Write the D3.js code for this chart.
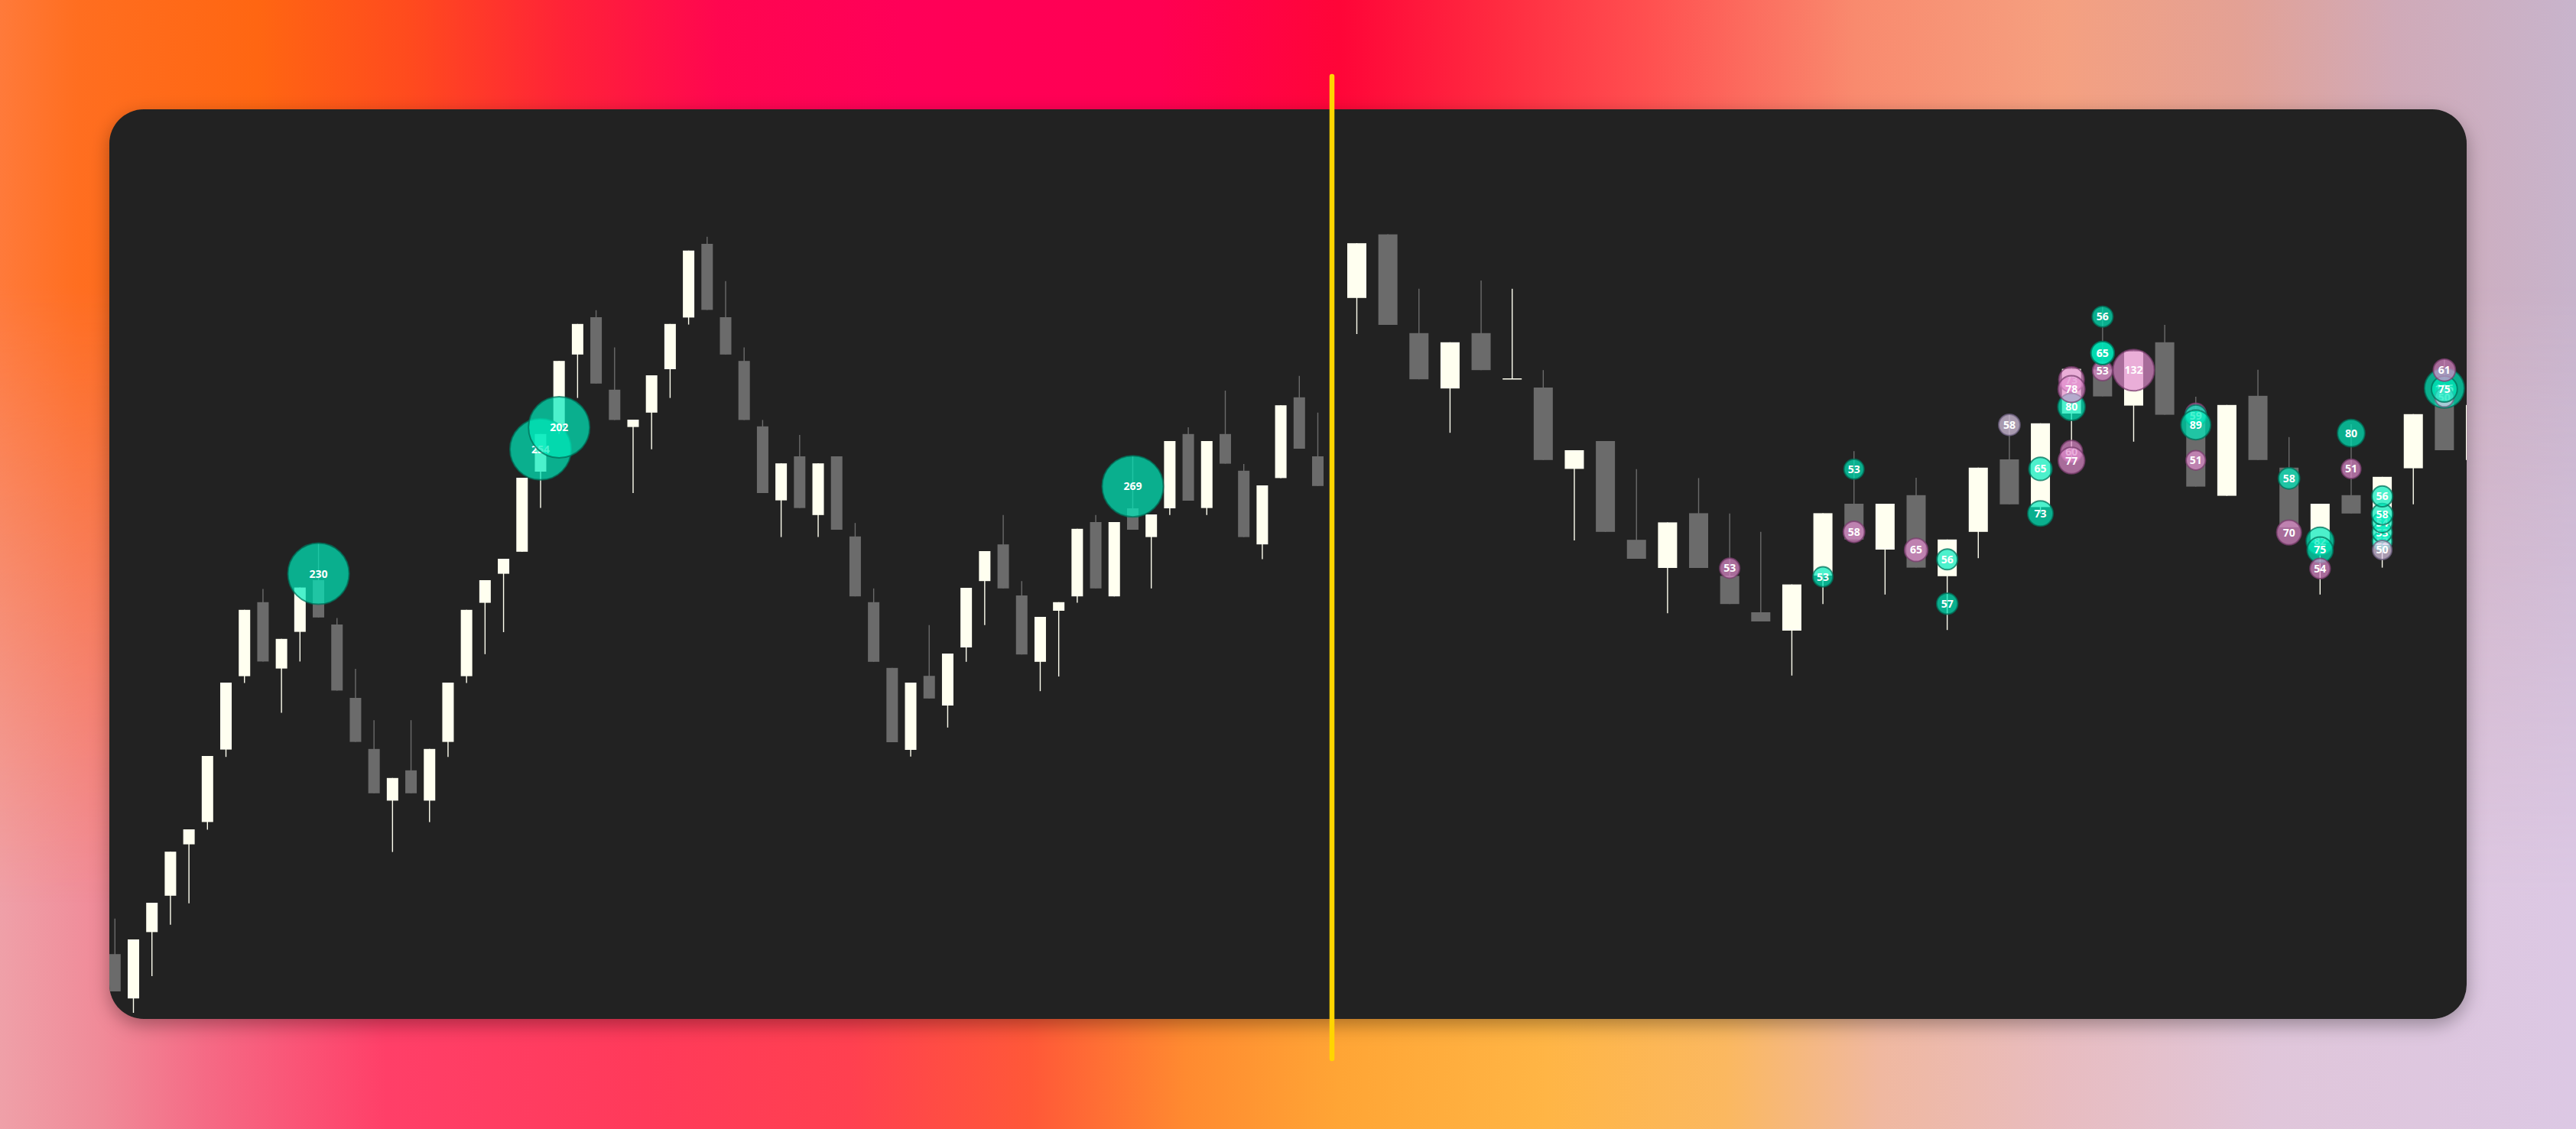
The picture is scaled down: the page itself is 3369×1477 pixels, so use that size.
<!DOCTYPE html>
<html>
<head>
<meta charset="utf-8">
<script src="https://cdn.jsdelivr.net/npm/d3@7"></script>
<style>
  html, body { margin: 0; padding: 0; overflow: hidden; background: #e89090; }
  svg { display: block; }
</style>
</head>
<body>
<svg id="chart" width="3369" height="1477"></svg>
<script>
// ---------------- DATA ----------------
// Left panel (higher timeframe) candles: open / high / low / close
const leftOpen  = [121.2,106.7,128.4,140.3,157.1,164.4,188.1,212.1,236.3,214.6,226.6,243.5,229.0,205.0,188.3,171.4,181.3,171.4,190.6,212.1,236.1,245.6,252.8,279.0,293.3,317.3,329.5,305.8,293.6,298.3,312.5,329.4,353.5,329.5,315.2,293.8,269.6,284.0,264.8,284.0,257.8,236.3,214.8,188.0,212.2,202.5,221.5,243.2,255.2,238.5,216.8,233.5,238.2,262.5,238.2,267.0,257.6,267.0,291.3,267.1,291.3,279.3,255.2,276.9,303.3,284.0];
const leftHigh  = [132.8,126.0,138.0,154.7,162.0,186.0,210.0,233.8,240.6,224.3,241.1,255.4,231.1,214.5,197.7,178.8,197.7,188.3,210.0,233.8,243.5,250.5,277.0,291.3,315.2,327.3,331.8,319.6,296.0,310.5,327.3,351.3,355.8,341.3,319.6,295.9,281.7,291.0,281.7,284.0,262.2,240.8,214.8,210.0,228.8,219.5,241.0,253.0,264.8,243.2,231.5,236.3,260.3,264.8,262.5,284.0,265.0,289.0,293.5,289.0,305.5,281.5,274.5,300.7,310.3,298.3];
const leftLow   = [109.0,102.0,114.0,130.8,137.8,161.9,185.7,209.9,216.9,200.1,216.9,231.3,207.4,190.6,173.8,154.6,173.8,164.4,185.7,209.9,219.3,226.5,252.8,267.1,291.3,303.1,307.8,295.9,272.0,286.3,303.1,327.1,331.9,317.3,295.9,272.0,257.6,267.1,257.6,260.0,238.2,216.8,190.5,185.8,204.8,195.3,216.8,228.8,240.8,219.2,207.2,212.0,236.1,240.8,238.2,260.0,240.8,264.8,269.5,264.8,281.6,257.6,250.4,276.9,286.5,274.3];
const leftClose = [109.0,126.0,138.0,154.7,162.0,186.0,210.0,233.8,216.9,224.3,241.1,231.3,207.4,190.6,173.8,178.8,173.8,188.3,210.0,233.8,243.5,250.5,277.0,291.3,315.2,327.3,307.8,295.9,296.0,310.5,327.3,351.3,331.9,317.3,295.9,272.0,281.7,267.1,281.7,260.0,238.2,216.8,190.5,210.0,204.8,219.5,241.0,253.0,240.8,219.2,231.5,236.3,260.3,240.8,262.5,260.0,265.0,289.0,269.5,289.0,281.6,257.6,274.5,300.7,286.5,274.3];

// Left panel large-trade bubbles
const leftBubbleIndex = [11, 23, 24, 55];
const leftBubblePrice = [245.6, 286.3, 293.5, 274.2];
const leftBubbleSize  = [230, 254, 202, 269];

// Right panel (lower timeframe) candles
const rightOpen  = [335.8,356.6,324.3,306.2,324.3,309.5,306.5,279.9,289.0,256.7,247.5,265.4,244.9,233.0,227.0,245.0,268.5,253.5,271.3,244.8,259.3,283.0,267.4,298.0,312.4,300.6,321.3,298.3,271.1,303.8,280.3,255.8,271.3,255.0,280.1,307.0,282.8];
const rightHigh  = [353.7,356.6,338.8,321.3,341.5,338.8,312.2,286.0,289.0,279.8,262.4,276.9,265.3,259.3,242.1,265.4,285.7,268.5,277.0,256.8,280.3,297.8,294.8,312.6,333.1,318.3,327.0,303.5,300.8,312.3,290.3,268.5,294.5,277.3,297.8,315.8,300.8];
const rightLow   = [324.0,327.0,309.2,291.7,312.2,309.5,282.8,256.5,259.3,250.5,232.7,247.5,235.7,230.0,212.3,235.7,256.8,238.8,247.6,227.2,250.7,268.3,265.3,283.1,303.6,288.8,297.6,274.1,271.1,282.8,260.8,238.8,265.3,247.6,268.3,286.0,271.2];
const rightClose = [353.7,327.0,309.2,321.3,312.2,309.5,282.8,286.0,259.3,250.5,262.4,247.5,235.7,230.0,242.1,265.4,256.8,268.5,247.6,256.8,280.3,268.3,294.8,312.6,303.6,318.3,297.6,274.1,300.8,282.8,260.8,268.5,265.3,277.3,297.8,286.0,300.8];

// Right panel large-trade bubbles (drawn in this order)
const rightBubbleIndex = [12,15,16,16,18,19,19,21,22,22,23,23,23,23,23,24,24,24,24,25,27,27,27,27,30,30,31,31,31,32,32,33,33,33,33,33,33,35,35,35,35];
const rightBubblePrice = [247.4,244.6,279.8,259.3,253.4,250.3,235.8,294.3,279.9,265.3,300.2,309.1,306.0,285.6,282.6,312.0,329.7,317.8,317.8,312.2,298.0,297.3,294.3,282.7,276.8,259.1,256.3,253.4,247.3,291.6,279.9,256.2,259.1,262.3,265.1,270.9,253.4,306.3,303.3,306.0,312.2];
const rightBubbleSize  = [53,53,53,58,65,56,57,58,65,73,80,73,78,60,77,53,56,65,65,132,55,59,89,51,58,70,82,75,54,80,51,52,53,54,58,56,50,126,50,75,61];
const rightBubbleSide  = ["sell","buy","buy","sell","sell","buy","buy","mixed","buy","buy","buy","sell","sell","sell","sell","sell","buy","buy","buy","sell","sell","buy","buy","sell","buy","sell","buy","buy","sell","buy","sell","buy","buy","buy","buy","buy","mixed","buy","mixed","buy","sell"];

// ---------------- LAYOUT ----------------
const W = 3369, H = 1477;
const card = { x: 143, y: 143, w: 3083, h: 1190, r: 45 };
const dividerX = 1742;

const svg = d3.select("#chart");
const defs = svg.append("defs");

function linGrad(id, stops, x1, y1, x2, y2) {
  const g = defs.append("linearGradient").attr("id", id)
    .attr("x1", x1).attr("y1", y1).attr("x2", x2).attr("y2", y2);
  stops.forEach(s => g.append("stop").attr("offset", s[0]).attr("stop-color", s[1]));
  return g;
}
linGrad("gTop", [[0,"#ff7a3a"],[0.03,"#ff6e20"],[0.10,"#ff6612"],[0.16,"#ff4a1e"],[0.22,"#ff2238"],[0.28,"#ff0650"],[0.35,"#ff0058"],[0.45,"#ff0052"],[0.52,"#ff0538"],[0.58,"#ff2a40"],[0.64,"#ff5050"],[0.72,"#f98a6e"],[0.80,"#f5a080"],[0.87,"#e3a195"],[0.93,"#d0aab8"],[1,"#c8b4cc"]], 0,0,1,0);
linGrad("gBot", [[0,"#efa0a8"],[0.04,"#f08a98"],[0.08,"#f56a85"],[0.15,"#ff3f68"],[0.25,"#ff3a5a"],[0.33,"#ff4050"],[0.40,"#ff5838"],[0.46,"#ff8a30"],[0.52,"#ffa535"],[0.60,"#ffb545"],[0.67,"#fbb860"],[0.73,"#f0b8a0"],[0.80,"#e8bcc0"],[0.88,"#e0c6da"],[1,"#dcc8e4"]], 0,0,1,0);
linGrad("gFade", [[0,"#000"],[0.25,"#000"],[0.8,"#fff"],[1,"#fff"]], 0,0,0,1);
defs.append("mask").attr("id", "mFade")
  .append("rect").attr("width", W).attr("height", H).attr("fill", "url(#gFade)");

const shadow = defs.append("filter").attr("id", "cardShadow")
  .attr("x", "-5%").attr("y", "-5%").attr("width", "110%").attr("height", "115%");
shadow.append("feDropShadow").attr("dx", 0).attr("dy", 8).attr("stdDeviation", 12)
  .attr("flood-color", "#000").attr("flood-opacity", 0.32);

defs.append("clipPath").attr("id", "cardClip")
  .append("rect").attr("x", card.x).attr("y", card.y).attr("width", card.w).attr("height", card.h)
  .attr("rx", card.r).attr("ry", card.r);

// background
svg.append("rect").attr("width", W).attr("height", H).attr("fill", "url(#gTop)");
svg.append("rect").attr("width", W).attr("height", H).attr("fill", "url(#gBot)").attr("mask", "url(#mFade)");

// card
svg.append("rect").attr("x", card.x).attr("y", card.y).attr("width", card.w).attr("height", card.h)
  .attr("rx", card.r).attr("ry", card.r).attr("fill", "#222222").attr("filter", "url(#cardShadow)");

const plot = svg.append("g").attr("clip-path", "url(#cardClip)");

// ---------------- SCALES ----------------
const y = d3.scaleLinear().domain([100, 397.5]).range([card.y + card.h, card.y]);
const xL = d3.scaleLinear().domain([0, leftOpen.length - 1]).range([150.3, 1723.5]);
const xR = d3.scaleLinear().domain([0, rightOpen.length - 1]).range([1774.5, 3237.5]);
const rLeft = d3.scaleLinear().domain([0, 200]).range([0, 41]).clamp(true);
const rRight = d3.scaleLinear().domain([50, 132]).range([13.5, 28]).clamp(true);

const UP = "#fffff0", DOWN = "#6b6b6b";
const sideFill   = { buy: "rgb(0,235,188)",  sell: "rgb(225,140,205)", mixed: "rgb(225,205,235)" };
const sideStroke = { buy: "#00705a",         sell: "#7a3d6e",          mixed: "#6e6080" };

function drawCandles(g, open, high, low, close, x, bodyW) {
  const data = open.map((o, i) => ({ i, o, h: high[i], l: low[i], c: close[i], up: close[i] >= o }));
  const cg = g.append("g");
  cg.selectAll("line.wick").data(data).join("line")
    .attr("class", "wick")
    .attr("x1", d => x(d.i)).attr("x2", d => x(d.i))
    .attr("y1", d => y(d.h)).attr("y2", d => y(d.l))
    .attr("stroke", d => d.up ? UP : DOWN)
    .attr("stroke-width", 1.4);
  cg.selectAll("rect.body").data(data).join("rect")
    .attr("class", "body")
    .attr("x", d => x(d.i) - bodyW / 2)
    .attr("width", bodyW)
    .attr("y", d => y(Math.max(d.o, d.c)))
    .attr("height", d => Math.max(1.5, Math.abs(y(d.o) - y(d.c))))
    .attr("fill", d => d.up ? UP : DOWN);
}

function drawBubbles(g, idx, price, size, side, x, rScale) {
  const data = idx.map((j, k) => ({ j, p: price[k], v: size[k], s: side ? side[k] : "buy" }));
  const bg = g.append("g");
  data.forEach(d => {
    const cx = x(d.j), cy = y(d.p), r = rScale(d.v);
    bg.append("circle")
      .attr("cx", cx).attr("cy", cy).attr("r", r - 1)
      .attr("fill", sideFill[d.s]).attr("fill-opacity", 0.7)
      .attr("stroke", sideStroke[d.s]).attr("stroke-opacity", 0.75).attr("stroke-width", 2);
    bg.append("text")
      .attr("x", cx).attr("y", cy).attr("dy", "0.36em")
      .attr("text-anchor", "middle")
      .attr("font-family", "'Open Sans', 'Noto Sans', sans-serif")
      .attr("font-weight", 700).attr("font-size", 14)
      .attr("fill", "#ffffff")
      .text(d.v);
  });
}

drawCandles(plot, leftOpen, leftHigh, leftLow, leftClose, xL, 15);
drawCandles(plot, rightOpen, rightHigh, rightLow, rightClose, xR, 25);
drawBubbles(plot, leftBubbleIndex, leftBubblePrice, leftBubbleSize, null, xL, rLeft);
drawBubbles(plot, rightBubbleIndex, rightBubblePrice, rightBubbleSize, rightBubbleSide, xR, rRight);

// divider line
svg.append("line")
  .attr("x1", dividerX).attr("x2", dividerX).attr("y1", 100).attr("y2", 1385)
  .attr("stroke", "#ffd500").attr("stroke-width", 6.5).attr("stroke-linecap", "round");
</script>
</body>
</html>
